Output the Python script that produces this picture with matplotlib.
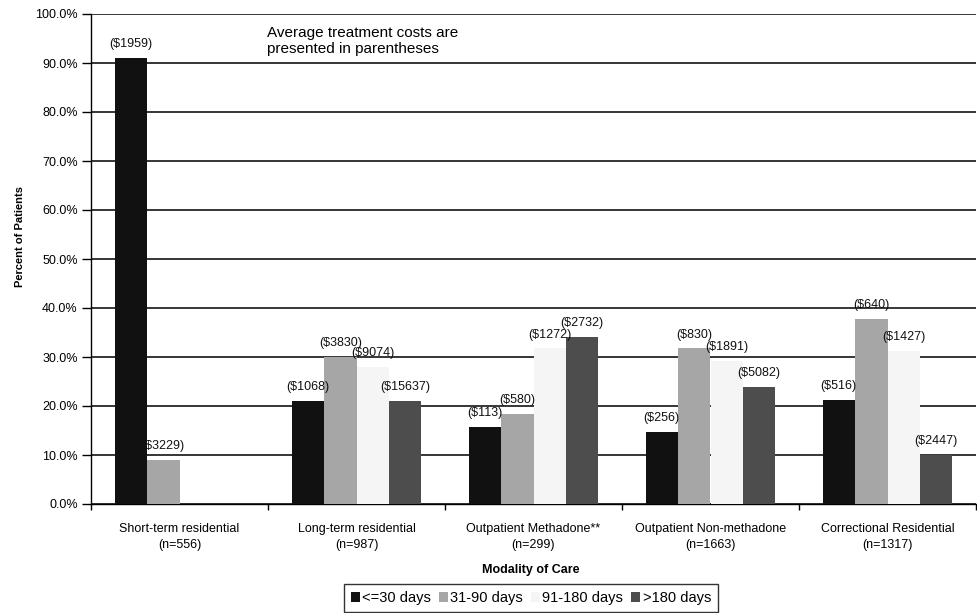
import numpy as np
import matplotlib
matplotlib.use("Agg")
import matplotlib.pyplot as plt
from matplotlib.ticker import MultipleLocator, FuncFormatter

plt.rcParams['font.family'] = ['Liberation Sans', 'DejaVu Sans']

categories = ["Short-term residential\n(n=556)", "Long-term residential\n(n=987)",
              "Outpatient Methadone**\n(n=299)", "Outpatient Non-methadone\n(n=1663)",
              "Correctional Residential\n(n=1317)"]
series_names = ["<=30 days", "31-90 days", "91-180 days", ">180 days"]

pct_le30 = [91.0, 21.0, 15.7, 14.7, 21.2]
pct_31_90 = [9.0, 30.0, 18.4, 31.8, 37.8]
pct_91_180 = [np.nan, 28.0, 31.8, 29.2, 31.2]
pct_gt180 = [np.nan, 21.0, 34.1, 23.9, 10.0]

cost_le30 = ["($1959)", "($1068)", "($113)", "($256)", "($516)"]
cost_31_90 = ["($3229)", "($3830)", "($580)", "($830)", "($640)"]
cost_91_180 = [None, "($9074)", "($1272)", "($1891)", "($1427)"]
cost_gt180 = [None, "($15637)", "($2732)", "($5082)", "($2447)"]

colors = ["#111111", "#a6a6a6", "#f5f5f5", "#4d4d4d"]

values = [pct_le30, pct_31_90, pct_91_180, pct_gt180]
costs = [cost_le30, cost_31_90, cost_91_180, cost_gt180]

fig = plt.figure(figsize=(9.77, 6.13), dpi=100)
ax = fig.add_axes([91/977, 1 - 504/613, (976-91)/977, (504-14)/613])

x = np.arange(len(categories))
width = 0.1835
offsets = (np.arange(4) - 1.5) * width

handles = []
for vals, labs, col, off, name in zip(values, costs, colors, offsets, series_names):
    v = np.nan_to_num(np.array(vals, dtype=float), nan=0.0)
    bars = ax.bar(x + off, v, width, color=col, linewidth=0, zorder=3, label=name)
    handles.append(bars)
    for xi, vi, lab in zip(x + off, vals, labs):
        if lab is None or np.isnan(vi):
            continue
        ax.annotate(lab, (xi, vi), xytext=(0, 5.5), textcoords="offset points",
                    ha="center", va="bottom", fontsize=9, color="#111111", zorder=4)

ax.set_xlim(-0.5, len(categories) - 0.5)
ax.set_ylim(0, 100)
ax.yaxis.set_major_locator(MultipleLocator(10))
ax.yaxis.set_major_formatter(FuncFormatter(lambda v, p: f"{v:.1f}%"))
ax.grid(axis="y", color="black", linewidth=1.1, zorder=0)
ax.set_axisbelow(True)

ax.spines["top"].set_visible(False)
ax.spines["right"].set_visible(False)
ax.spines["left"].set_linewidth(1.0)
ax.spines["bottom"].set_linewidth(1.0)

ax.tick_params(axis="y", length=6.5, width=1, direction="out", labelsize=9, pad=3)
ax.set_xticks(x)
ax.set_xticklabels(categories, fontsize=9, linespacing=1.5)
ax.tick_params(axis="x", which="major", length=0, pad=13.5)
ax.set_xticks(np.arange(len(categories) + 1) - 0.5, minor=True)
ax.tick_params(axis="x", which="minor", length=4, width=1, direction="out")

fig.text(20/977, 1 - 236/613, "Percent of Patients", rotation=90, ha="center",
         va="center", fontsize=8, fontweight="bold")
fig.text(531/977, 1 - 570/613, "Modality of Care", ha="center", va="center",
         fontsize=9, fontweight="bold")
fig.text(267/977, 1 - 41/613, "Average treatment costs are\npresented in parentheses",
         ha="left", va="center", fontsize=11, linespacing=1.15)

leg = fig.legend(handles=handles, labels=series_names, loc="center",
                 bbox_to_anchor=(531/977, 1 - 598/613), ncol=4, fontsize=10.5,
                 frameon=True, fancybox=False, handlelength=0.62, handleheight=0.62,
                 handletextpad=0.15, columnspacing=0.55, borderpad=0.5,
                 borderaxespad=0)
leg.get_frame().set_edgecolor("black")
leg.get_frame().set_linewidth(1.0)

fig.savefig("out.png", dpi=100)
